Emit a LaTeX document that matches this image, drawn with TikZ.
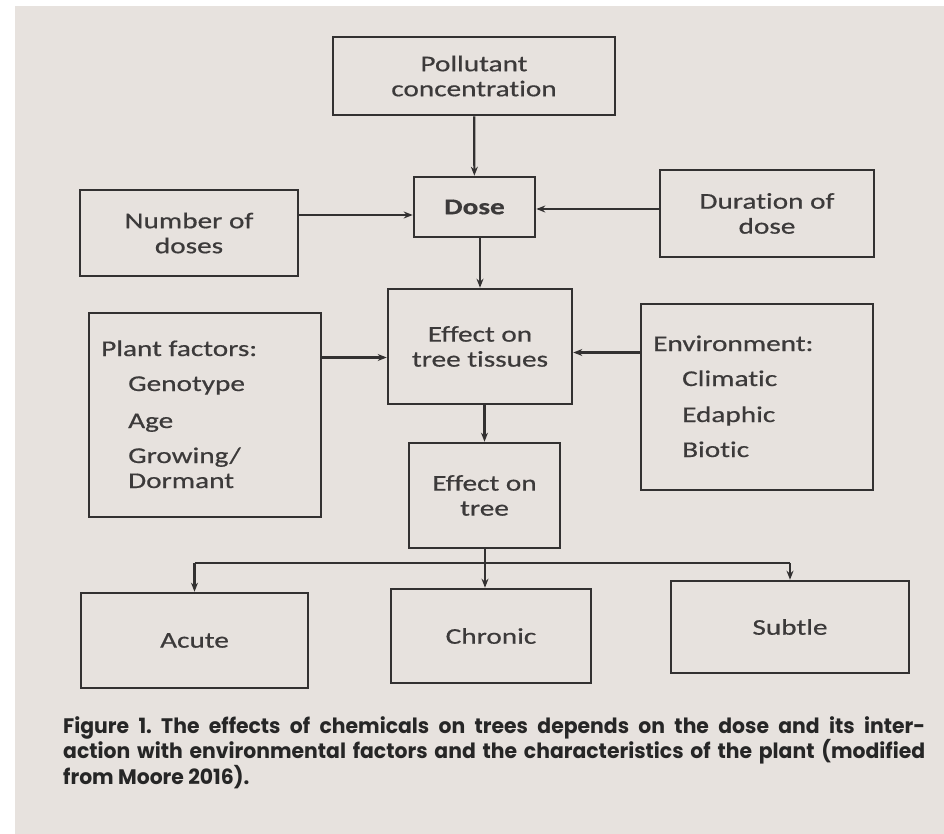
\documentclass[tikz,border=0pt]{standalone}
\usepackage{fontspec}
\setmainfont{Carlito}[FakeStretch=1.3,FakeBold=0.6,RawFeature=-liga]
\newfontfamily\capfont{Poppins}[FakeStretch=0.97]
\usetikzlibrary{arrows.meta}
\frenchspacing
\definecolor{paper}{HTML}{E7E2DE}
\definecolor{ink}{HTML}{333131}
\definecolor{txt}{HTML}{3C3A3A}
\tikzset{
  box/.style={draw=ink, line width=2.6pt, rectangle, inner sep=0pt, align=center,
    text=txt, font=\fontsize{22.5}{25}\selectfont},
  arr/.style={draw=ink, line width=2.2pt, -{Stealth[length=9pt,width=7pt]}},
  ln/.style={draw=ink, line width=2.2pt},
  lbl/.style={anchor=base west, inner sep=0pt, text=txt, font=\fontsize{22.5}{25}\selectfont},
  captxt/.style={anchor=north west, inner sep=0pt, text width=862pt, align=justify,
    text=black!85, font=\capfont\bfseries\fontsize{21}{23}\selectfont\frenchspacing}
}
\begin{document}
\begin{tikzpicture}[x=1pt,y=-1pt]
\useasboundingbox (0,0) rectangle (944,834);
\fill[white] (0,0) rectangle (944,834);
\fill[paper] (15,6) rectangle (944,834);

\node[box, minimum width=282pt, minimum height=78pt] (poll) at (474,76) {Pollutant\\concentration};
\node[box, minimum width=121pt, minimum height=60pt, font=\fontsize{22.5}{25}\selectfont\bfseries] (dose) at (474.5,207) {Dose};
\node[box, minimum width=218pt, minimum height=86pt] (num) at (189,233) {Number of\\doses};
\node[box, minimum width=214pt, minimum height=87pt] (dur) at (767,213.5) {Duration of\\dose};
\node[box, minimum width=184pt, minimum height=115pt] (tis) at (480,346.5) {Effect on\\tree tissues};
\node[box, minimum width=232pt, minimum height=204pt] (plant) at (205,415) {};
\node[box, minimum width=232pt, minimum height=186pt] (env) at (757,397) {};
\node[box, minimum width=151pt, minimum height=105pt] (tree) at (484.5,495.5) {Effect on\\tree};
\node[box, minimum width=227pt, minimum height=95pt] (acute) at (194.5,640.5) {Acute};
\node[box, minimum width=200pt, minimum height=94pt] (chronic) at (491,636) {Chronic};
\node[box, minimum width=238pt, minimum height=92pt] (subtle) at (790,627) {Subtle};

\node[lbl] (pf) at (101,356) {Plant factors:};
\node[lbl] (pg) at (128,391) {Genotype};
\node[lbl] (pa) at (128,428) {Age};
\node[lbl] (pgr) at (128,463) {Growing/};
\node[lbl] (pd) at (128,488) {Dormant};

\node[lbl] (ee) at (653,351) {Environment:};
\node[lbl] (ec) at (682,386) {Climatic};
\node[lbl] (eed) at (682,422) {Edaphic};
\node[lbl] (eb) at (682,457) {Biotic};

\coordinate (dw) at ([yshift=-8pt]dose.west);
\coordinate (de) at ([yshift=-2pt]dose.east);
\coordinate (tw) at ([yshift=-11pt]tis.west);
\coordinate (te) at ([yshift=-6pt]tis.east);

\draw[arr] (poll) -- (dose);
\draw[arr] (num.east |- dw) -- (dw);
\draw[arr] (dur.west |- de) -- (de);
\draw[arr] (dose.south -| tis.north) -- (tis.north);
\draw[arr] (plant.east |- tw) -- (tw);
\draw[arr] (env.west |- te) -- (te);
\draw[arr] (tis.south -| tree.north) -- (tree.north);

\coordinate (bm) at (485,563);
\coordinate (bl) at (acute.north |- bm);
\coordinate (br) at (subtle.north |- bm);
\draw[ln] (tree.south -| bm) -- (bm);
\draw[ln] (bl) -- (br);
\draw[arr] (bl) -- (acute.north);
\draw[arr] (bm) -- (bm |- chronic.north);
\draw[arr] (br) -- (subtle.north);

\node[captxt] (cap) at (63,716) {Figure 1. The effects of chemicals on trees depends on the dose and its inter-\linebreak action with environmental factors and the characteristics of the plant (modified\linebreak from Moore 2016).};
\end{tikzpicture}
\end{document}
